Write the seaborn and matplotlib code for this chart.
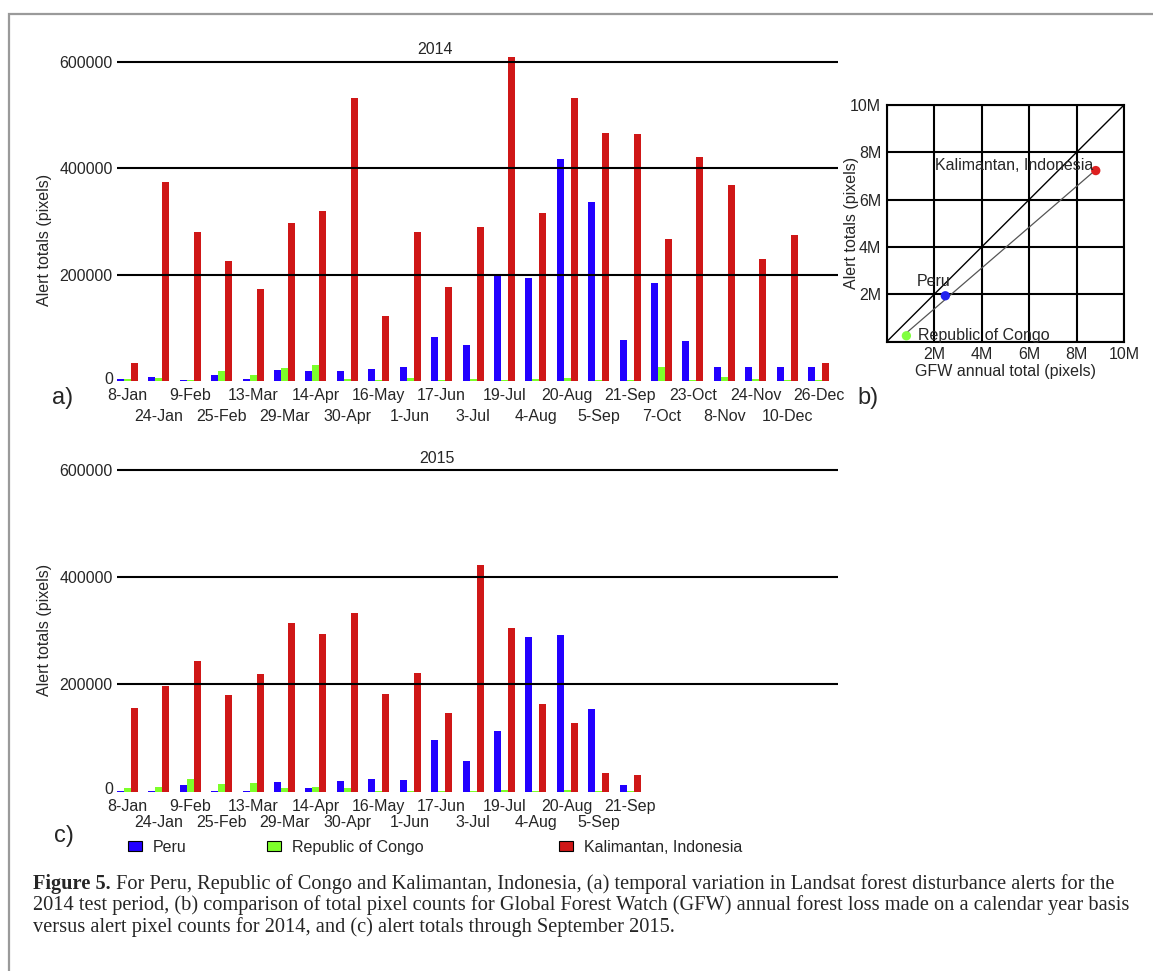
import numpy as np
import pandas as pd
import matplotlib
matplotlib.use("Agg")
import matplotlib.pyplot as plt
import matplotlib.transforms as mtransforms
import seaborn as sns
from matplotlib.patches import Rectangle, Patch

# ---------------- data ----------------
dates = ["8-Jan", "24-Jan", "9-Feb", "25-Feb", "13-Mar", "29-Mar", "14-Apr", "30-Apr",
         "16-May", "1-Jun", "17-Jun", "3-Jul", "19-Jul", "4-Aug", "20-Aug", "5-Sep",
         "21-Sep", "7-Oct", "23-Oct", "8-Nov", "24-Nov", "10-Dec", "26-Dec"]
countries = ["Peru", "Republic of Congo", "Kalimantan, Indonesia"]

peru_2014 = [3000, 8000, 1500, 11000, 4500, 21000, 19500, 18000, 22000, 26000, 83000, 68000,
             198000, 194000, 418000, 337000, 77000, 184000, 76000, 26000, 26000, 26000, 26000]
congo_2014 = [4000, 6000, 2500, 19000, 11000, 25000, 31000, 4000, 2000, 6000, 2000, 4000,
              2000, 4000, 5500, 2000, 2000, 26000, 2000, 7000, 3000, 2000, 2000]
kalimantan_2014 = [33000, 375000, 280000, 226000, 174000, 297000, 320000, 533000, 122000, 280000,
                   176000, 289000, 609000, 316000, 533000, 466000, 465000, 267000, 421000, 368000,
                   230000, 274000, 33000]

dates_2015 = dates[:17]
peru_2015 = [2000, 2000, 12000, 2000, 2000, 19000, 7000, 20500, 24000, 21000, 96000, 58000,
             114000, 288000, 292000, 155000, 12000]
congo_2015 = [7000, 9000, 24000, 14000, 16000, 7000, 8000, 7000, 2000, 2000, 2000, 2000,
              3000, 2000, 4000, 2000, 2000]
kalimantan_2015 = [156000, 197000, 244000, 180000, 219000, 314000, 295000, 334000, 183000, 222000,
                   147000, 423000, 305000, 164000, 129000, 34000, 31000]

gfw_total = [2.47e6, 0.83e6, 8.81e6]      # Peru, Congo, Kalimantan
alert_total = [1.94e6, 0.25e6, 7.23e6]

y_ticks = [0, 200000, 400000, 600000]
b_ticks = [0, 2e6, 4e6, 6e6, 8e6, 10e6]
b_tick_labels = ["", "2M", "4M", "6M", "8M", "10M"]

bar_colors = ["#2200ff", "#7dff2a", "#cf1717"]
point_colors = ["#2020ee", "#80ff40", "#dd2020"]

caption_bold = "Figure 5."
caption_lines = [
    " For Peru, Republic of Congo and Kalimantan, Indonesia, (a) temporal variation in Landsat forest disturbance alerts for the",
    "2014 test period, (b) comparison of total pixel counts for Global Forest Watch (GFW) annual forest loss made on a calendar year basis",
    "versus alert pixel counts for 2014, and (c) alert totals through September 2015.",
]

# ---------------- style ----------------
sns.set_style("white")
plt.rcParams["font.family"] = ["Liberation Sans", "DejaVu Sans"]
FS = 11.5

W, H = 1153, 971
fig = plt.figure(figsize=(W / 100, H / 100), dpi=100)


def long_df(d, p, c, k):
    n = len(d)
    return pd.DataFrame({
        "date": list(d) * 3,
        "country": [countries[0]] * n + [countries[1]] * n + [countries[2]] * n,
        "value": list(p) + list(c) + list(k),
    })


def bar_panel(rect, df, labels_n, ylabel_y, major_pad, minor_pad):
    ax = fig.add_axes(rect)
    sns.barplot(data=df, x="date", y="value", hue="country", order=dates,
                hue_order=countries, palette=bar_colors, width=0.67, saturation=1,
                edgecolor="none", legend=False, ax=ax)
    ax.set_xlim(-0.335, 22.62)
    ax.set_ylim(0, 640000)
    ax.set_yticks(y_ticks)
    ax.set_yticklabels([str(v) for v in y_ticks], fontsize=FS)
    ax.set_axisbelow(False)
    ax.yaxis.grid(True, color="black", lw=1.5)
    ax.xaxis.grid(False)
    ax.get_ygridlines()[0].set_visible(False)
    for s in ax.spines.values():
        s.set_visible(False)
    even = list(range(0, labels_n, 2))
    odd = list(range(1, labels_n, 2))
    ax.set_xticks(even)
    ax.set_xticklabels([dates[i] for i in even], fontsize=FS)
    ax.set_xticks(odd, minor=True)
    ax.set_xticklabels([dates[i] for i in odd], minor=True, fontsize=FS)
    ax.tick_params(axis="x", which="major", length=0, pad=major_pad)
    ax.tick_params(axis="x", which="minor", length=0, pad=minor_pad)
    ax.tick_params(axis="y", length=0, pad=3)
    # lift the "0" label a little so it clears the first date label
    zero_lab = ax.get_yticklabels()[0]
    zero_lab.set_transform(zero_lab.get_transform() +
                           mtransforms.ScaledTranslation(0, 2.5 / 72, fig.dpi_scale_trans))
    ax.set_xlabel("")
    ax.set_ylabel("Alert totals (pixels)", fontsize=FS)
    ax.yaxis.set_label_coords(-0.090, ylabel_y)
    return ax


# panel a
df14 = long_df(dates, peru_2014, congo_2014, kalimantan_2014)
ax_a = bar_panel([117 / W, 1 - 381 / H, 721 / W, 340 / H], df14, 23, 0.415, 5.0, 20.5)
fig.text(435 / W, 1 - 49 / H, "2014", ha="center", va="center", fontsize=FS)

# panel c
df15 = long_df(dates_2015, peru_2015, congo_2015, kalimantan_2015)
ax_c = bar_panel([117 / W, 1 - 791.7 / H, 721 / W, 343.2 / H], df15, 17, 0.471, 5.0, 17.0)
fig.text(437 / W, 1 - 458 / H, "2015", ha="center", va="center", fontsize=FS)

# panel b
ax_b = fig.add_axes([886.7 / W, 1 - 341.7 / H, 237.3 / W, 236.7 / H])
ax_b.set_xlim(0, 10e6)
ax_b.set_ylim(0, 10e6)
ax_b.axline((0, 0), slope=1, color="black", lw=1.0, zorder=3)
sns.regplot(x=np.array(gfw_total), y=np.array(alert_total), scatter=False, ci=None,
            truncate=True, line_kws=dict(color="#555555", lw=0.9), ax=ax_b)
sns.scatterplot(x=gfw_total, y=alert_total, hue=countries, palette=point_colors,
                s=45, edgecolor="none", legend=False, ax=ax_b, zorder=5)
ax_b.set_xticks(b_ticks)
ax_b.set_xticklabels(b_tick_labels, fontsize=FS)
ax_b.set_yticks(b_ticks)
ax_b.set_yticklabels(b_tick_labels, fontsize=FS)
ax_b.grid(True, color="black", lw=1.5)
ax_b.set_axisbelow(True)
for s in ax_b.spines.values():
    s.set_visible(True)
    s.set_color("black")
    s.set_linewidth(1.5)
ax_b.tick_params(length=3, width=1, pad=1, color="black")
ax_b.set_xlabel("GFW annual total (pixels)", fontsize=FS, labelpad=1)
ax_b.set_ylabel("Alert totals (pixels)", fontsize=FS)
ax_b.yaxis.set_label_coords(-0.117, 0.5)
offsets = {"Kalimantan, Indonesia": ((-2, 4), "right"),
           "Peru": ((4, 10), "right"),
           "Republic of Congo": ((8, 0), "left")}
for name, gx, ay in zip(countries, gfw_total, alert_total):
    off, ha = offsets[name]
    ax_b.annotate(name, (gx, ay), xytext=off, textcoords="offset points",
                  ha=ha, va="center", fontsize=FS, zorder=6)

# panel letters
fig.text(63 / W, 1 - 398 / H, "a)", ha="center", va="center", fontsize=17)
fig.text(868 / W, 1 - 398 / H, "b)", ha="center", va="center", fontsize=17)
fig.text(64 / W, 1 - 836 / H, "c)", ha="center", va="center", fontsize=17)

# legend
legend_x = [128, 267, 559]
for name, col, lx in zip(countries, bar_colors, legend_x):
    h = Patch(facecolor=col, edgecolor="black", lw=0.8, label=name)
    fig.legend(handles=[h], loc="center left", bbox_to_anchor=(lx / W, 1 - 847 / H),
               frameon=False, fontsize=FS, handlelength=0.88, handleheight=0.62,
               handletextpad=0.7, borderaxespad=0, borderpad=0)

# frame
fig.add_artist(Rectangle((9 / W, -0.1), 2, 1.1 - 14 / H, transform=fig.transFigure,
                         fill=False, edgecolor="#9a9a9a", lw=1.6))

# caption
cap_font = dict(family=["Liberation Serif", "DejaVu Serif"], fontsize=14.7)
ys = [884, 905.5, 927]
tb = fig.text(33 / W, 1 - ys[0] / H, caption_bold, ha="left", va="center",
              fontweight="bold", **cap_font)
fig.canvas.draw()
bb = tb.get_window_extent()
fig.text(bb.x1 / W, 1 - ys[0] / H, caption_lines[0], ha="left", va="center", **cap_font)
fig.text(33 / W, 1 - ys[1] / H, caption_lines[1], ha="left", va="center", **cap_font)
fig.text(33 / W, 1 - ys[2] / H, caption_lines[2], ha="left", va="center", **cap_font)

fig.savefig("out.png", dpi=100)
